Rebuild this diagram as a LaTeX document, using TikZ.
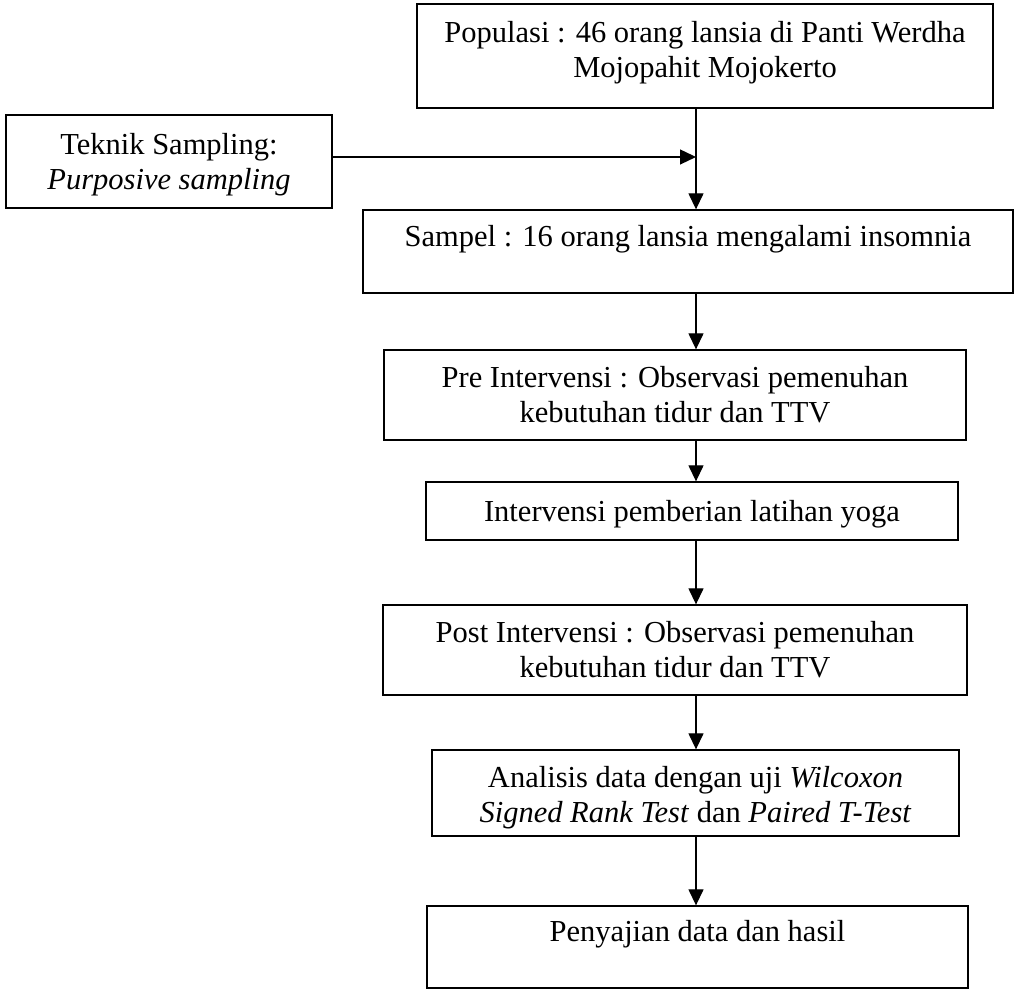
\documentclass[tikz,border=0pt]{standalone}
\usepackage{fontspec}
\setmainfont{Liberation Serif}
\usetikzlibrary{arrows.meta}
\begin{document}
\begin{tikzpicture}[x=1pt,y=1pt,
  box/.style={draw, line width=1.3pt, inner sep=0pt},
  txt/.style={font=\fontsize{30.5}{35}\selectfont, align=center, inner sep=0pt},
  arr/.style={line width=1.3pt, -{Triangle[length=16pt,width=15pt]}}]
\useasboundingbox (0,0) rectangle (1015,992);
% boxes
\node[box, minimum width=576pt, minimum height=104pt] (b1) at (705,936) {};
\node[box, minimum width=326pt, minimum height=93pt] (b2) at (169,830.5) {};
\node[box, minimum width=650pt, minimum height=83pt] (b3) at (688,740.5) {};
\node[box, minimum width=582pt, minimum height=90pt] (b4) at (675,597) {};
\node[box, minimum width=532pt, minimum height=58pt] (b5) at (692,481) {};
\node[box, minimum width=584pt, minimum height=90pt] (b6) at (675,342) {};
\node[box, minimum width=527pt, minimum height=86pt] (b7) at (695.5,199) {};
\node[box, minimum width=541pt, minimum height=82pt] (b8) at (697.5,45) {};
% texts
\node[txt] (t1) at (705,939) {Populasi : 46 orang lansia di Panti Werdha\\Mojopahit Mojokerto};
\node[txt] (t2) at (169,827.5) {Teknik Sampling:\\\textit{Purposive sampling}};
\node[txt, anchor=base] (t3) at (688,745) {Sampel : 16 orang lansia mengalami insomnia};
\node[txt] (t4) at (b4.center) {Pre Intervensi : Observasi pemenuhan\\kebutuhan tidur dan TTV};
\node[txt] (t5) at (692,478) {Intervensi pemberian latihan yoga};
\node[txt] (t6) at (b6.center) {Post Intervensi : Observasi pemenuhan\\kebutuhan tidur dan TTV};
\node[txt] (t7) at (695.5,194.5) {Analisis data dengan uji \textit{Wilcoxon}\\\textit{Signed Rank Test} dan \textit{Paired T-Test}};
\node[txt, anchor=base] (t8) at (697.5,50) {Penyajian data dan hasil};
% connectors
\coordinate (j) at (696,835);
\draw[arr] (b1.south -| j) -- (b3.north -| j);
\draw[arr] (b2.east |- j) -- (j);
\draw[arr] (b3.south -| j) -- (b4.north -| j);
\draw[arr] (b4.south -| j) -- (b5.north -| j);
\draw[arr] (b5.south -| j) -- (b6.north -| j);
\draw[arr] (b6.south -| j) -- (b7.north -| j);
\draw[arr] (b7.south -| j) -- (b8.north -| j);
\end{tikzpicture}
\end{document}
